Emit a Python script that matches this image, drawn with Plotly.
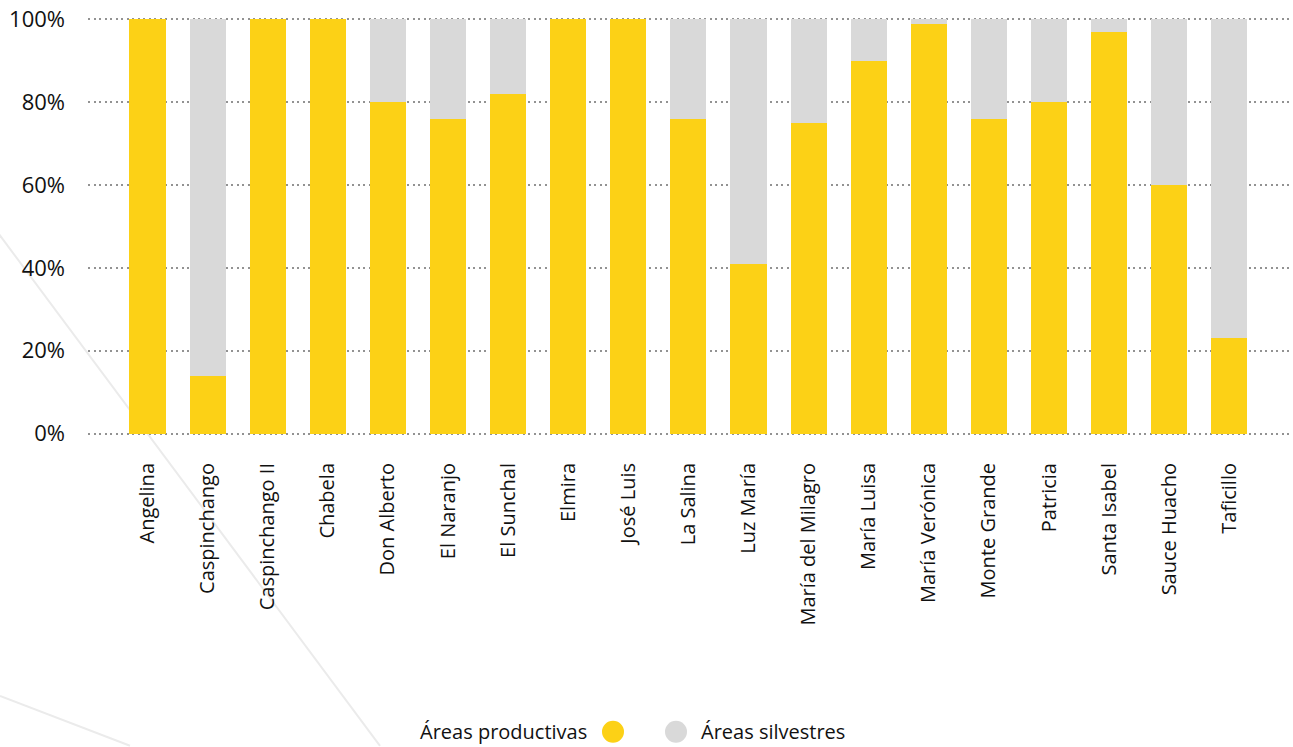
import plotly.graph_objects as go

categories = ["Angelina", "Caspinchango", "Caspinchango II", "Chabela", "Don Alberto",
              "El Naranjo", "El Sunchal", "Elmira", "José Luis", "La Salina", "Luz María",
              "María del Milagro", "María Luisa", "María Verónica", "Monte Grande",
              "Patricia", "Santa Isabel", "Sauce Huacho", "Taficillo"]
productivas = [100, 14, 100, 100, 80, 76, 82, 100, 100, 76, 41, 75, 90, 99, 76, 80, 97, 60, 23]
silvestres = [0, 86, 0, 0, 20, 24, 18, 0, 0, 24, 59, 25, 10, 1, 24, 20, 3, 40, 77]
y_ticks = [0, 20, 40, 60, 80, 100]
y_tick_labels = ["0%", "20%", "40%", "60%", "80%", "100%"]
legend_names = ["Áreas productivas", "Áreas silvestres"]

YELLOW = "#FCD116"
GREY = "#D9D9D9"
FONT = "Open Sans"
TXT = "#111111"

fig = go.Figure()
fig.add_trace(go.Bar(x=categories, y=productivas, name=legend_names[0],
                     marker=dict(color=YELLOW, line=dict(width=0))))
fig.add_trace(go.Bar(x=categories, y=silvestres, name=legend_names[1],
                     marker=dict(color=GREY, line=dict(width=0))))

# plot-area pixel geometry
L, R = 88, 1290
Y0PX, Y100PX = 434, 19
unit = (Y0PX - Y100PX) / 100.0
pad = 0.6
top_px = Y100PX - pad * unit
bot_px = Y0PX + pad * unit

fig.update_layout(
    barmode="stack",
    bargap=0.4,
    width=1293, height=747,
    margin=dict(l=L, r=1293 - R, t=top_px, b=747 - bot_px, autoexpand=False),
    paper_bgcolor="white", plot_bgcolor="rgba(0,0,0,0)",
    showlegend=False,
    font=dict(family=FONT, color=TXT),
    xaxis=dict(range=[-0.99, 19.01], tickangle=-90, showgrid=False, zeroline=False,
               showline=False, ticks="", tickfont=dict(size=20, family=FONT, color=TXT),
               ticklabelstandoff=22),
    yaxis=dict(range=[-pad, 100 + pad], tickvals=y_ticks, ticktext=y_tick_labels, showgrid=True,
               gridcolor="#929292", griddash="2px,3.5px", gridwidth=2.2, zeroline=False,
               showline=False, ticks="", tickfont=dict(size=22, family=FONT, color=TXT),
               ticklabelstandoff=22),
)

W = R - L
H = bot_px - top_px
def px(x):
    return (x - L) / W
def py(y):
    return (bot_px - y) / H

# decorative faint background lines
fig.add_shape(type="line", xref="paper", yref="paper", x0=px(-175), y0=py(0), x1=px(380), y1=py(747),
              line=dict(color="#ebebeb", width=2), layer="below")
fig.add_shape(type="line", xref="paper", yref="paper", x0=px(0), y0=py(697), x1=px(130), y1=py(747),
              line=dict(color="#ebebeb", width=2), layer="below")

# legend (text followed by marker)
ly = 733
fig.add_annotation(text=legend_names[0], xref="paper", yref="paper", x=px(589), y=py(ly),
                   xanchor="right", yanchor="middle", showarrow=False,
                   font=dict(size=20, family=FONT, color=TXT))
fig.add_shape(type="circle", xref="paper", yref="paper", x0=px(602), x1=px(624),
              y0=py(ly + 11), y1=py(ly - 11), fillcolor=YELLOW, line=dict(width=0))
fig.add_shape(type="circle", xref="paper", yref="paper", x0=px(665), x1=px(687),
              y0=py(ly + 11), y1=py(ly - 11), fillcolor=GREY, line=dict(width=0))
fig.add_annotation(text=legend_names[1], xref="paper", yref="paper", x=px(699), y=py(ly),
                   xanchor="left", yanchor="middle", showarrow=False,
                   font=dict(size=20, family=FONT, color=TXT))

fig.write_html("out.html")
